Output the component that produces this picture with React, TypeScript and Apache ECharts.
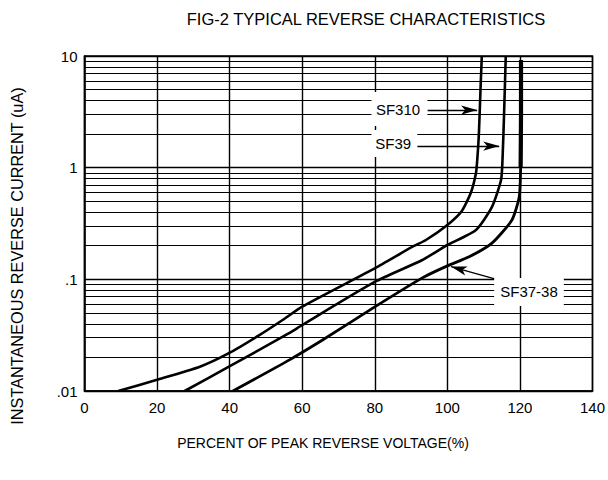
import React, { useEffect, useRef } from 'react';
import * as echarts from 'echarts';

// ---- data ----
const sf310X = [9.3, 20, 31.8, 39.8, 48.3, 54.6, 60, 80.1, 90.3, 94.1, 100, 104, 106.5, 107.9, 108.3, 108.7, 109.2, 109.5];
const sf310Y = [0.01, 0.0126, 0.0165, 0.0218, 0.0318, 0.0432, 0.057, 0.126, 0.195, 0.225, 0.307, 0.41, 0.6, 0.9, 1.25, 2.04, 5.7, 10];

const sf39X = [27.6, 39.8, 56.5, 60, 80.1, 93.1, 100, 107.9, 112.3, 114.8, 115.2, 115.6, 116.1];
const sf39Y = [0.01, 0.0165, 0.0331, 0.039, 0.0953, 0.149, 0.203, 0.277, 0.445, 0.776, 1.17, 2.8, 10];

const sf3738X = [40.9, 56.5, 65.6, 80.1, 93.1, 100, 106, 112.3, 117.8, 119.8, 120.2, 120.3, 120.3];
const sf3738Y = [0.01, 0.019, 0.0286, 0.0569, 0.103, 0.132, 0.159, 0.211, 0.34, 0.546, 1.0, 3, 9.2];

const xMin = 0;
const xMax = 140;
const xStep = 20;
const yMin = 0.01;
const yMax = 10;
const decades = [0.01, 0.1, 1];
const minorMultipliers = [2, 3, 4, 5, 6, 7, 8, 9];

const titleText = 'FIG-2 TYPICAL REVERSE CHARACTERISTICS';
const xTitle = 'PERCENT OF PEAK REVERSE VOLTAGE(%)';
const yTitle = 'INSTANTANEOUS REVERSE CURRENT (uA)';

// annotations in data units: label, label centre, arrow start, arrow tip, white box [x0,x1,y0,y1]
const annLabels = ['SF310', 'SF39', 'SF37-38'];
const annCenters = [[86.4, 3.34], [85.1, 1.66], [122.5, 0.0778]];
const annArrowFrom = [[94.5, 3.28], [91.7, 1.56], [114.3, 0.0986]];
const annArrowTo = [[108.2, 3.28], [114.3, 1.56], [101, 0.13]];
const annBoxes = [[79.1, 94.5, 2.36, 4.76], [79.1, 91.7, 1.246, 2.17], [112.9, 132.1, 0.0577, 0.1028]];

const FONT = '"Liberation Sans", Arial, Helvetica, sans-serif';

const zip = (xs: number[], ys: number[]) => xs.map((x, i) => [x, ys[i]]);

export default function App() {
  const ref = useRef<HTMLDivElement>(null);

  useEffect(() => {
    document.body.style.margin = '0';
    if (!ref.current) return;
    const chart = echarts.init(ref.current, null, { renderer: 'svg' });

    const minorLines: number[] = [];
    decades.forEach((d) => minorMultipliers.forEach((m) => minorLines.push(Number((d * m).toPrecision(3)))));

    const lineBase = {
      type: 'line' as const,
      showSymbol: false,
      symbol: 'none',
      smooth: 0.2,
      silent: true,
      z: 5,
    };

    const thickIdx = sf3738Y.findIndex((v) => v >= 0.5);

    const option: any = {
      animation: false,
      backgroundColor: '#fff',
      grid: {
        left: 84.5,
        right: 15,
        top: 56,
        bottom: 89,
        show: true,
        borderColor: '#000',
        borderWidth: 1.5,
        backgroundColor: '#fff',
      },
      xAxis: {
        type: 'value',
        min: xMin,
        max: xMax,
        interval: xStep,
        axisLine: { show: true, lineStyle: { color: '#000', width: 1.5 } },
        axisTick: { show: false },
        axisLabel: { color: '#000', fontSize: 15, fontFamily: FONT, margin: 9 },
        splitLine: { show: true, lineStyle: { color: '#000', width: 1.4 } },
      },
      yAxis: {
        type: 'log',
        logBase: 10,
        min: yMin,
        max: yMax,
        axisLine: { show: true, lineStyle: { color: '#000', width: 1.5 } },
        axisTick: { show: false },
        axisLabel: {
          color: '#000',
          fontSize: 15,
          fontFamily: FONT,
          margin: 7,
          formatter: (v: number) => {
            const n = Number(Number(v).toPrecision(3));
            return n >= 1 ? String(n) : String(n).replace(/^0/, '');
          },
        },
        splitLine: { show: true, lineStyle: { color: '#000', width: 1.3 } },
        minorSplitLine: { show: false },
      },
      series: [
        {
          type: 'line',
          name: 'grid',
          data: zip(sf310X, sf310Y),
          lineStyle: { opacity: 0 },
          showSymbol: false,
          symbol: 'none',
          silent: true,
          z: 1,
          markLine: {
            silent: true,
            symbol: ['none', 'none'],
            label: { show: false },
            lineStyle: { color: '#000', width: 1, type: 'solid' },
            data: minorLines.map((v) => ({ yAxis: v })),
          },
        },
        {
          ...lineBase,
          name: 'SF310',
          data: zip(sf310X, sf310Y),
          lineStyle: { color: '#000', width: 2.6 },
          markLine: {
            silent: true,
            symbol: ['none', 'arrow'],
            symbolSize: [7, 16],
            label: { show: false },
            lineStyle: { color: '#000', width: 1.3, type: 'solid' },
            data: annLabels.map((_, i) => [
              { coord: annArrowFrom[i] },
              { coord: annArrowTo[i] },
            ]),
          },
        },
        {
          ...lineBase,
          name: 'SF39',
          data: zip(sf39X, sf39Y),
          lineStyle: { color: '#000', width: 2.6 },
        },
        {
          ...lineBase,
          name: 'SF37-38',
          data: zip(sf3738X, sf3738Y),
          lineStyle: { color: '#000', width: 2.8 },
        },
        {
          ...lineBase,
          name: 'SF37-38 upper',
          smooth: 0,
          data: zip(sf3738X.slice(thickIdx + 1), sf3738Y.slice(thickIdx + 1)),
          lineStyle: { color: '#000', width: 4.2 },
        },
      ],
    };

    chart.setOption(option);

    const px = (x: number, y: number) => chart.convertToPixel({ gridIndex: 0 }, [x, y]) as number[];

    const graphics: any[] = [];
    annBoxes.forEach((b) => {
      const p0 = px(b[0], b[3]);
      const p1 = px(b[1], b[2]);
      graphics.push({
        type: 'rect',
        z: 100,
        silent: true,
        shape: { x: p0[0], y: p0[1], width: p1[0] - p0[0], height: p1[1] - p0[1] },
        style: { fill: '#fff' },
      });
    });
    annLabels.forEach((t, i) => {
      const p = px(annCenters[i][0], annCenters[i][1]);
      graphics.push({
        type: 'text',
        z: 101,
        silent: true,
        x: p[0],
        y: p[1],
        style: {
          text: t,
          fill: '#000',
          font: `15px ${FONT}`,
          textAlign: 'center',
          textVerticalAlign: 'middle',
        },
      });
    });
    graphics.push({
      type: 'text',
      z: 101,
      silent: true,
      x: 366,
      y: 19,
      style: { text: titleText, fill: '#000', font: `16.5px ${FONT}`, textAlign: 'center', textVerticalAlign: 'middle' },
    });
    graphics.push({
      type: 'text',
      z: 101,
      silent: true,
      x: 323,
      y: 443,
      style: { text: xTitle, fill: '#000', font: `14px ${FONT}`, textAlign: 'center', textVerticalAlign: 'middle' },
    });
    graphics.push({
      type: 'text',
      z: 101,
      silent: true,
      x: 17,
      y: 256,
      rotation: Math.PI / 2,
      style: { text: yTitle, fill: '#000', font: `16.3px ${FONT}`, textAlign: 'center', textVerticalAlign: 'middle' },
    });

    chart.setOption({ graphic: graphics });

    return () => chart.dispose();
  }, []);

  return <div ref={ref} style={{ width: 608, height: 480 }} />;
}
